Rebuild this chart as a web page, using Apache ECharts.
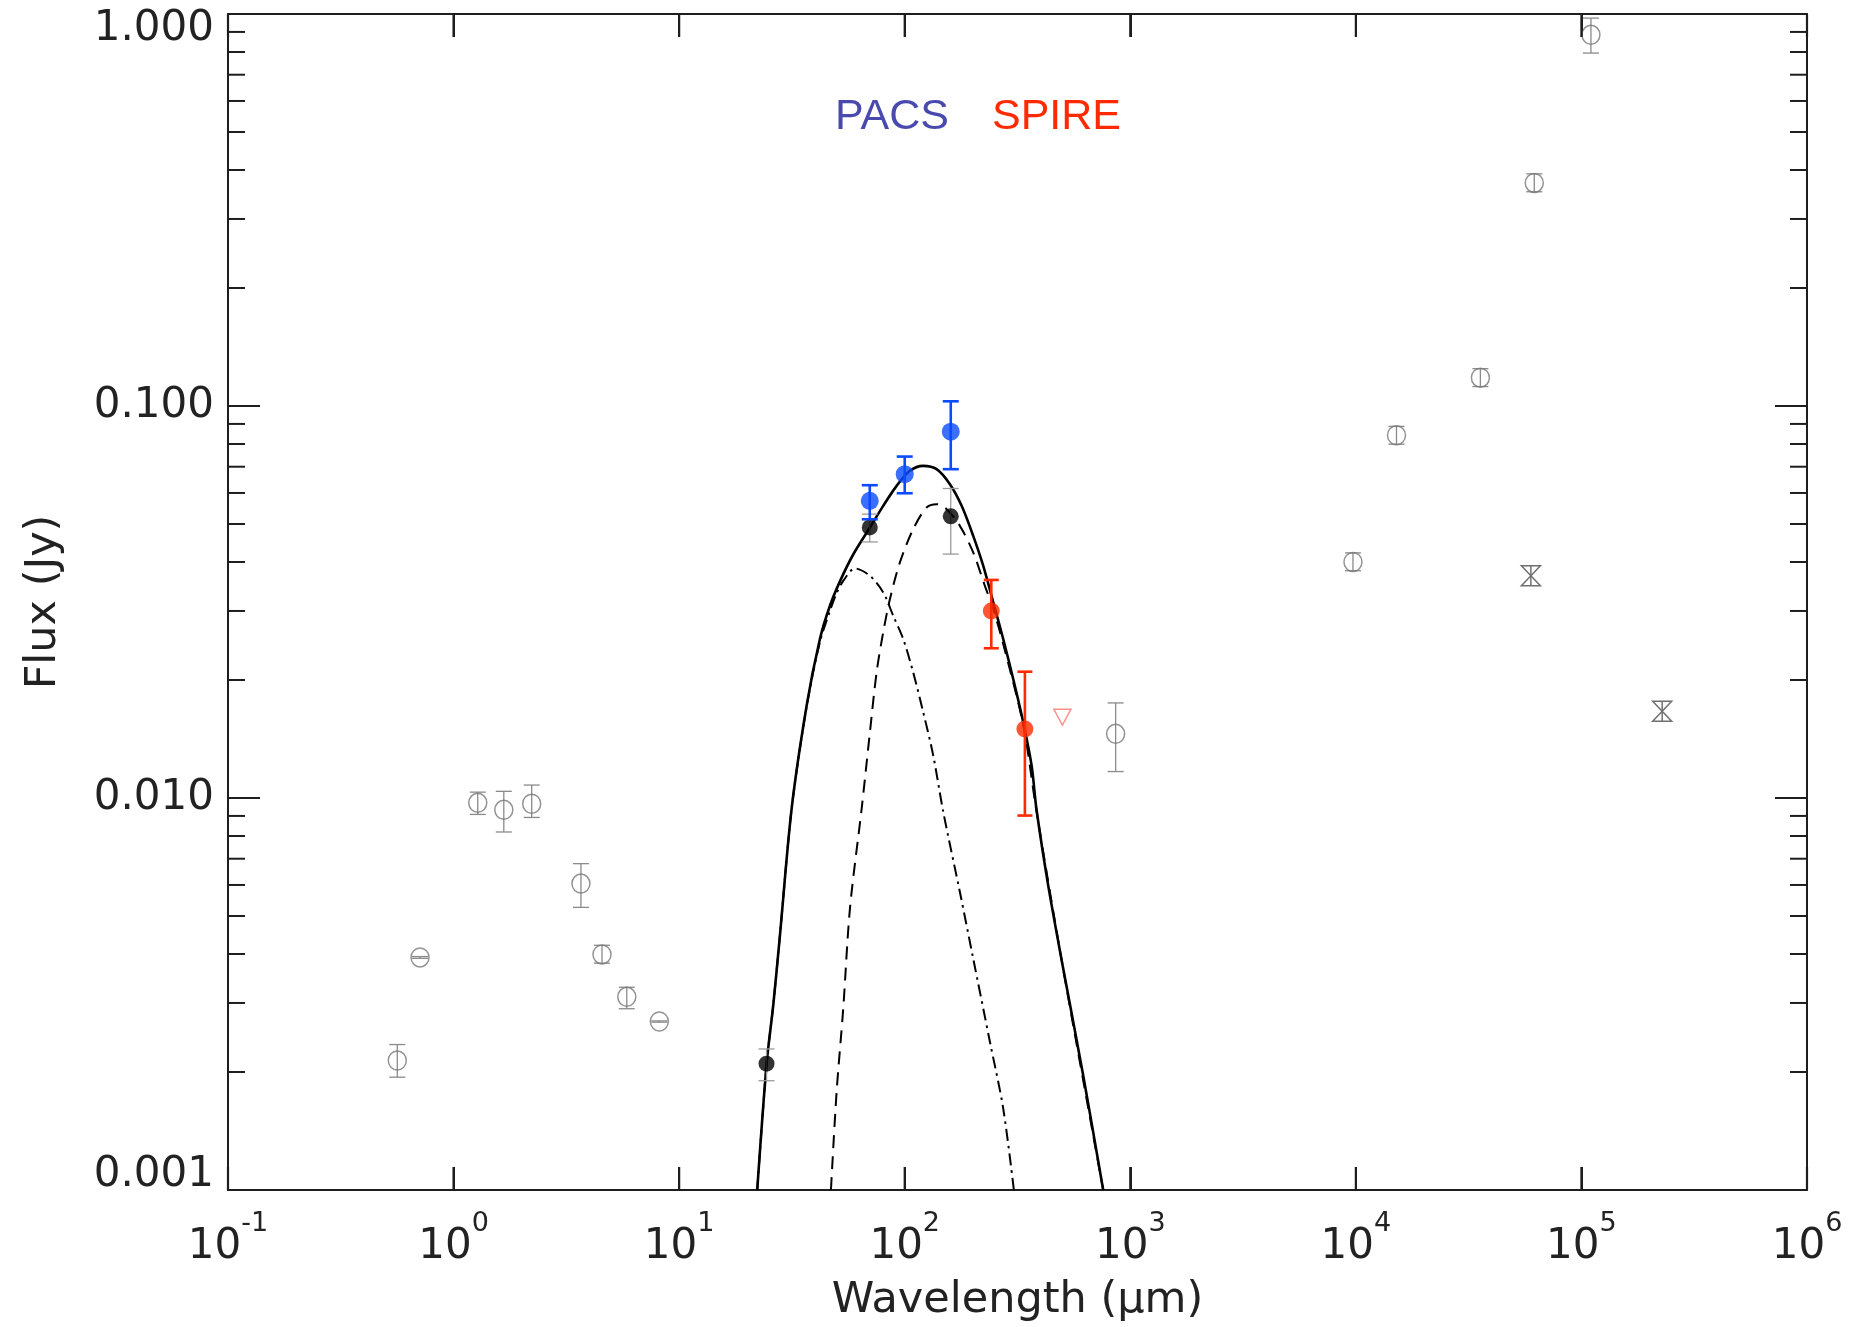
<!DOCTYPE html>
<html>
<head>
<meta charset="utf-8">
<script src="https://cdn.jsdelivr.net/npm/echarts@6/dist/echarts.min.js"></script>
<style>
html,body{margin:0;padding:0;background:#ffffff;}
#chart{width:1849px;height:1327px;}
</style>
</head>
<body>
<div id="chart"></div>
<script>
// ---------------- data (wavelength in micron, flux in Jy) ----------------
const xTickExponents = [-1, 0, 1, 2, 3, 4, 5, 6];
const yTickLabels = ['0.001', '0.010', '0.100', '1.000'];

// archival photometry (grey open circles)
const archWave = [0.563, 0.71, 1.28, 1.67, 2.22, 3.67, 4.55, 5.86, 8.17, 861, 9710, 15140, 35650, 61800, 110200];
const archFlux = [0.00214, 0.00392, 0.00972, 0.00933, 0.00967, 0.00605, 0.00399, 0.00311, 0.00269, 0.01458, 0.0400, 0.0842, 0.1181, 0.3708, 0.885];
const archLow  = [0.00194, 0.00390, 0.00908, 0.00819, 0.00892, 0.00526, 0.00379, 0.00290, 0.00268, 0.01168, 0.0380, 0.0799, 0.1121, 0.3520, 0.795];
const archHigh = [0.00235, 0.00394, 0.01035, 0.01040, 0.01079, 0.00680, 0.00421, 0.00329, 0.00270, 0.01748, 0.0422, 0.0887, 0.1245, 0.3910, 0.976];

// radio points drawn with hourglass symbols
const radioWave = [59700, 228000];
const radioFlux = [0.0369, 0.01665];

// fitted photometry (black filled)
const fitWave = [24.4, 70, 160];
const fitFlux = [0.0021, 0.0490, 0.0523];
const fitLow  = [0.0019, 0.0450, 0.0419];
const fitHigh = [0.00229, 0.0530, 0.0616];

// PACS (blue)
const pacsWave = [70, 100, 160];
const pacsFlux = [0.0573, 0.0670, 0.0860];
const pacsLow  = [0.0514, 0.0599, 0.0690];
const pacsHigh = [0.0628, 0.0743, 0.1028];

// SPIRE (red)
const spireWave = [242, 341];
const spireFlux = [0.0300, 0.0150];
const spireLow  = [0.0241, 0.00902];
const spireHigh = [0.0360, 0.0210];

// SPIRE upper limit (open triangle)
const limitWave = [500];
const limitFlux = [0.01607];

// model: total (solid)
const totalWave = [22.19, 24.43, 26.13, 27.98, 31.52, 36.74, 42.08, 46.61, 51.62, 59.11, 70.11, 80.29, 92.07, 105.4, 120.8, 138.5, 158.6, 178.8, 201.2, 222.8, 246.9, 273.3, 302.7, 335.2, 365.2, 383.6, 432.6, 504.2, 618.2, 758.5];
const totalFlux = [0.001, 0.002103, 0.00296, 0.004464, 0.009386, 0.0172, 0.02544, 0.03093, 0.0357, 0.0418, 0.04899, 0.05563, 0.06254, 0.06833, 0.07035, 0.0690, 0.06317, 0.05563, 0.04664, 0.03913, 0.03156, 0.02544, 0.02012, 0.01561, 0.0121, 0.009386, 0.005985, 0.003672, 0.001963, 0.001];

// model: cold component (dashed)
const coldWave = [47.09, 49.9, 53.39, 57.17, 64.42, 70.11, 75.06, 80.29, 86.0, 95.21, 109.0, 125.0, 138.5, 153.4, 175.6, 201.2, 226.7, 246.9, 273.3, 335.2, 383.6, 504.2, 758.5];
const coldFlux = [0.001, 0.001781, 0.002904, 0.005222, 0.009386, 0.01472, 0.02093, 0.02647, 0.03218, 0.0399, 0.04851, 0.0551, 0.05618, 0.05455, 0.04946, 0.0423, 0.03478, 0.03034, 0.02471, 0.01537, 0.00928, 0.00366, 0.001];

// model: warm component (dash-dot)
const warmWave = [22.19, 24.43, 26.13, 27.98, 31.52, 36.74, 42.08, 46.61, 49.9, 53.39, 60.16, 70.11, 80.29, 88.92, 98.49, 109.0, 120.8, 133.8, 148.2, 175.6, 201.2, 238.6, 273.3, 304.8];
const warmFlux = [0.001, 0.0021, 0.00296, 0.004464, 0.009386, 0.0171, 0.0250, 0.0300, 0.0333, 0.0358, 0.03852, 0.03688, 0.03346, 0.02917, 0.02544, 0.02093, 0.01655, 0.01283, 0.00922, 0.005758, 0.003894, 0.002389, 0.001615, 0.001];

// ---------------- helpers ----------------
const L = Math.log10;
const pts = (w, f) => w.map((x, i) => [L(x), L(f[i])]);
const bars = (w, lo, hi) => w.map((x, i) => [L(x), L(lo[i]), L(hi[i])]);

const minorTicks = [];
for (let d = -3; d < 0; d++) for (let k = 2; k <= 9; k++) minorTicks.push(L(k) + d);

const FONT = 'DejaVu Sans';
const AX = '#1e1e1e';

function errorBar(color, lw, cap) {
  return function (params, api) {
    const x = api.value(0);
    const p1 = api.coord([x, api.value(1)]);
    const p2 = api.coord([x, api.value(2)]);
    const st = { stroke: color, lineWidth: lw };
    return { type: 'group', children: [
      { type: 'line', shape: { x1: p1[0], y1: p1[1], x2: p2[0], y2: p2[1] }, style: st },
      { type: 'line', shape: { x1: p1[0] - cap, y1: p1[1], x2: p1[0] + cap, y2: p1[1] }, style: st },
      { type: 'line', shape: { x1: p2[0] - cap, y1: p2[1], x2: p2[0] + cap, y2: p2[1] }, style: st }
    ]};
  };
}
function hourglass(params, api) {
  const c = api.coord([api.value(0), api.value(1)]);
  const w = 9.5, h = 10;
  const st = { stroke: '#707070', lineWidth: 1.5, fill: null };
  return { type: 'group', children: [
    { type: 'polygon', shape: { points: [[c[0]-w, c[1]-h], [c[0]+w, c[1]-h], [c[0]-w, c[1]+h], [c[0]+w, c[1]+h]] }, style: st },
    { type: 'line', shape: { x1: c[0], y1: c[1]-h, x2: c[0], y2: c[1]+h }, style: st }
  ]};
}
// inward decade ticks on bottom and top frame
function xFrameTicks(params, api) {
  const e = api.value(0);
  const b = api.coord([e, -3]);
  const t = api.coord([e, 0]);
  const st = { stroke: AX, lineWidth: 2.2 };
  return { type: 'group', children: [
    { type: 'line', shape: { x1: b[0], y1: b[1], x2: b[0], y2: b[1] - 23 }, style: st },
    { type: 'line', shape: { x1: t[0], y1: t[1], x2: t[0], y2: t[1] + 23 }, style: st }
  ]};
}
// inward minor ticks (2..9 x decade) on left and right frame
function yMinorTicks(params, api) {
  const v = api.value(1);
  const l = api.coord([-1, v]);
  const r = api.coord([6, v]);
  const st = { stroke: AX, lineWidth: 2 };
  return { type: 'group', children: [
    { type: 'line', shape: { x1: l[0], y1: l[1], x2: l[0] + 17, y2: l[1] }, style: st },
    { type: 'line', shape: { x1: r[0], y1: r[1], x2: r[0] - 17, y2: r[1] }, style: st }
  ]};
}

const option = {
  animation: false,
  backgroundColor: '#ffffff',
  grid: { left: 228, right: 42, top: 14, bottom: 135.5, containLabel: false },
  xAxis: [
    { type: 'value', min: -1, max: 6, interval: 1, position: 'bottom',
      axisLine: { show: true, onZero: false, lineStyle: { color: AX, width: 2 } },
      axisTick: { show: true, inside: true, length: 23, lineStyle: { color: AX, width: 2 } },
      splitLine: { show: false },
      name: 'Wavelength (μm)', nameLocation: 'middle', nameGap: 89,
      nameTextStyle: { fontFamily: FONT, fontSize: 43, color: '#222' },
      axisLabel: {
        show: true, margin: 20,
        formatter: v => '{b|10}{s|' + xTickExponents[xTickExponents.indexOf(Math.round(v))] + '}',
        rich: {
          b: { fontFamily: FONT, fontSize: 42, color: '#222', lineHeight: 58, verticalAlign: 'bottom' },
          s: { fontFamily: FONT, fontSize: 27, color: '#222', lineHeight: 27, verticalAlign: 'top' }
        }
      } },
    { type: 'value', min: -1, max: 6, interval: 1, position: 'top',
      axisLine: { show: true, onZero: false, lineStyle: { color: AX, width: 2 } },
      axisTick: { show: true, inside: true, length: 23, lineStyle: { color: AX, width: 2 } },
      splitLine: { show: false },
      axisLabel: { show: false } }
  ],
  yAxis: [
    { type: 'value', min: -3, max: 0, interval: 1, position: 'left',
      axisLine: { show: true, onZero: false, lineStyle: { color: AX, width: 2 } },
      axisTick: { show: true, inside: true, length: 32, lineStyle: { color: AX, width: 2 } },
      splitLine: { show: false },
      name: 'Flux (Jy)', nameLocation: 'middle', nameGap: 163,
      nameTextStyle: { fontFamily: FONT, fontSize: 43, color: '#222' },
      axisLabel: {
        show: true, margin: 14,
        formatter: v => {
          const i = Math.round(v) + 3;
          if (i === 3) return '{t|' + yTickLabels[i] + '}';
          if (i === 0) return '{m|' + yTickLabels[i] + '}';
          return '{n|' + yTickLabels[i] + '}';
        },
        rich: {
          n: { fontFamily: FONT, fontSize: 42, color: '#222' },
          t: { fontFamily: FONT, fontSize: 42, color: '#222', padding: [31, 0, 0, 0] },
          m: { fontFamily: FONT, fontSize: 42, color: '#222', padding: [0, 0, 30, 0] }
        }
      } },
    { type: 'value', min: -3, max: 0, interval: 1, position: 'right',
      axisLine: { show: true, onZero: false, lineStyle: { color: AX, width: 2 } },
      axisTick: { show: true, inside: true, length: 32, lineStyle: { color: AX, width: 2 } },
      splitLine: { show: false },
      axisLabel: { show: false } }
  ],
  graphic: [
    { type: 'text', x: 835, y: 117.5, style: { text: 'PACS', fill: '#4949ae', fontFamily: 'Liberation Sans', fontSize: 43, verticalAlign: 'middle' } },
    { type: 'text', x: 992, y: 117.5, style: { text: 'SPIRE', fill: '#ff2a00', fontFamily: 'Liberation Sans', fontSize: 43, verticalAlign: 'middle' } }
  ],
  series: [
    { name: 'xticks', type: 'custom', renderItem: xFrameTicks, data: xTickExponents.map(e => [e, -3]),
      encode: { x: 0, y: 1 }, clip: false, silent: true, z: 8 },
    { name: 'yminor', type: 'custom', renderItem: yMinorTicks, data: minorTicks.map(v => [-1, v]),
      encode: { x: 0, y: 1 }, clip: false, silent: true, z: 8 },

    { name: 'total', type: 'line', data: pts(totalWave, totalFlux), showSymbol: false, smooth: 0.3, z: 2,
      lineStyle: { color: '#000', width: 2.6 } },
    { name: 'cold', type: 'line', data: pts(coldWave, coldFlux), showSymbol: false, smooth: 0.3, z: 2,
      lineStyle: { color: '#000', width: 2, type: [13, 8] } },
    { name: 'warm', type: 'line', data: pts(warmWave, warmFlux), showSymbol: false, smooth: 0.3, z: 2,
      lineStyle: { color: '#000', width: 2, type: [12, 5, 2.5, 5] } },

    { name: 'archErr', type: 'custom', renderItem: errorBar('#8a8a8a', 1.3, 8), data: bars(archWave, archLow, archHigh),
      encode: { x: 0, y: [1, 2] }, z: 3 },
    { name: 'arch', type: 'scatter', data: pts(archWave, archFlux), symbol: 'circle', symbolSize: [18, 19], z: 4,
      itemStyle: { color: 'rgba(255,255,255,0)', borderColor: '#777777', borderWidth: 1.5 } },
    { name: 'radio', type: 'custom', renderItem: hourglass, data: pts(radioWave, radioFlux), encode: { x: 0, y: 1 }, z: 4 },

    { name: 'fitErr', type: 'custom', renderItem: errorBar('#9a9a9a', 1.3, 8), data: bars(fitWave, fitLow, fitHigh),
      encode: { x: 0, y: [1, 2] }, z: 3 },
    { name: 'fit', type: 'scatter', data: pts(fitWave, fitFlux), symbol: 'circle', symbolSize: 16, z: 5,
      itemStyle: { color: '#000' } },

    { name: 'pacsErr', type: 'custom', renderItem: errorBar('#0a4bff', 2.6, 8), data: bars(pacsWave, pacsLow, pacsHigh),
      encode: { x: 0, y: [1, 2] }, z: 6 },
    { name: 'pacs', type: 'scatter', data: pts(pacsWave, pacsFlux), symbol: 'circle', symbolSize: 18, z: 7,
      itemStyle: { color: '#0a4bff' } },

    { name: 'spireErr', type: 'custom', renderItem: errorBar('#ff2a00', 2.6, 7.5), data: bars(spireWave, spireLow, spireHigh),
      encode: { x: 0, y: [1, 2] }, z: 6 },
    { name: 'spire', type: 'scatter', data: pts(spireWave, spireFlux), symbol: 'circle', symbolSize: 17, z: 7,
      itemStyle: { color: '#ff2a00' } },

    { name: 'limit', type: 'scatter', data: pts(limitWave, limitFlux), symbol: 'path://M0,0L10,0L5,10Z',
      symbolSize: [17, 16], z: 7,
      itemStyle: { color: 'rgba(255,255,255,0)', borderColor: '#ff7070', borderWidth: 1.5 } }
  ]
};

const chart = echarts.init(document.getElementById('chart'), null, { renderer: 'canvas' });
chart.setOption(option);
</script>
</body>
</html>
